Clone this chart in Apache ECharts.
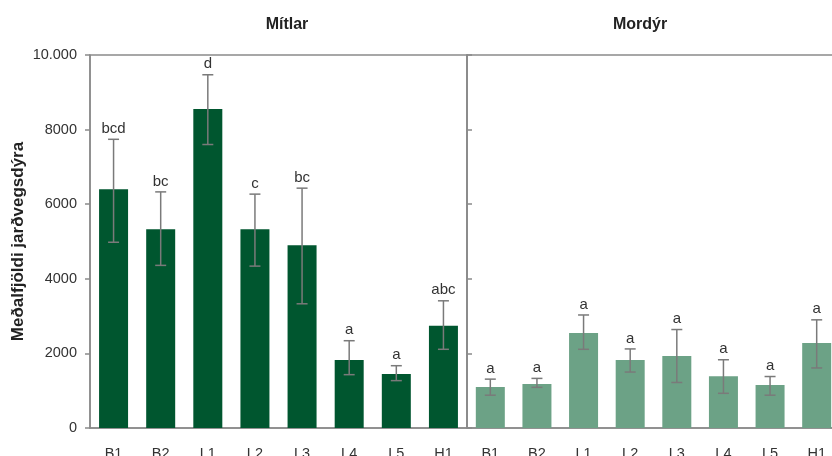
<!DOCTYPE html>
<html>
<head>
<meta charset="utf-8">
<script src="https://cdn.jsdelivr.net/npm/echarts@6/dist/echarts.min.js"></script>
<style>
  html, body { margin: 0; padding: 0; background: #fff; }
  #chart { width: 832px; height: 456px; }
</style>
</head>
<body>
<div id="chart"></div>
<script>
const categories = ['B1', 'B2', 'L1', 'L2', 'L3', 'L4', 'L5', 'H1']

// Mítlar
const mitlarMean = [6400, 5330, 8550, 5330, 4900, 1820, 1450, 2740]
const mitlarLow = [4980, 4360, 7600, 4340, 3330, 1430, 1270, 2110]
const mitlarHigh = [7740, 6330, 9470, 6270, 6430, 2340, 1670, 3410]
const mitlarLetters = ['bcd', 'bc', 'd', 'c', 'bc', 'a', 'a', 'abc']

// Mordýr
const mordyrMean = [1100, 1180, 2550, 1820, 1930, 1390, 1150, 2280]
const mordyrLow = [880, 1090, 2110, 1500, 1220, 930, 880, 1610]
const mordyrHigh = [1310, 1330, 3030, 2120, 2640, 1830, 1380, 2900]
const mordyrLetters = ['a', 'a', 'a', 'a', 'a', 'a', 'a', 'a']

const yTicks = { min: 0, max: 10000, interval: 2000 }

const font = '"Liberation Sans", Arial, Helvetica, sans-serif'
const axisColor = '#8a8a8a'
const errColor = '#7a7a7a'

const chart = echarts.init(document.getElementById('chart'))

const errRender = (letters) => (params, api) => {
  const i = api.value(0)
  const lo = api.coord([i, api.value(1)])
  const hi = api.coord([i, api.value(2)])
  const x = lo[0]
  const half = 5.5
  const lineStyle = { stroke: errColor, lineWidth: 1.5 }
  return {
    type: 'group',
    children: [
      { type: 'line', shape: { x1: x, y1: lo[1], x2: x, y2: hi[1] }, style: lineStyle },
      { type: 'line', shape: { x1: x - half, y1: lo[1], x2: x + half, y2: lo[1] }, style: lineStyle },
      { type: 'line', shape: { x1: x - half, y1: hi[1], x2: x + half, y2: hi[1] }, style: lineStyle },
      {
        type: 'text',
        style: {
          text: letters[i], x: x, y: hi[1] - 3,
          align: 'center', verticalAlign: 'bottom',
          font: '15px ' + font, fill: '#333'
        }
      }
    ]
  }
}

const errData = (low, high) => low.map((v, i) => [i, v, high[i]])

const xAxisBase = (gridIndex) => ({
  type: 'category',
  gridIndex,
  data: categories,
  axisLine: { lineStyle: { color: axisColor, width: 1.5 } },
  axisTick: { show: false },
  axisLabel: { color: '#333', fontSize: 14.5, fontFamily: font, margin: 18 }
})

const option = {
  animation: false,
  textStyle: { fontFamily: font },
  title: [
    { text: 'Mítlar', left: 282, top: 12, textAlign: 'center',
      textStyle: { fontSize: 16, fontWeight: 'bold', color: '#222', fontFamily: font } },
    { text: 'Mordýr', left: 635, top: 12, textAlign: 'center',
      textStyle: { fontSize: 16, fontWeight: 'bold', color: '#222', fontFamily: font } }
  ],
  grid: [
    { left: 90, top: 55, width: 377, height: 373, outerBoundsMode: 'none',
      show: true, borderColor: axisColor, borderWidth: 1.5 },
    { left: 467, top: 55, width: 373, height: 373, outerBoundsMode: 'none',
      show: true, borderColor: axisColor, borderWidth: 1.5 }
  ],
  xAxis: [xAxisBase(0), xAxisBase(1)],
  yAxis: [
    {
      type: 'value', gridIndex: 0, ...yTicks,
      name: 'Meðalfjöldi jarðvegsdýra', nameLocation: 'middle', nameGap: 63, nameRotate: 90,
      nameTextStyle: { fontSize: 17, fontWeight: 'bold', color: '#222', fontFamily: font },
      axisLine: { show: true, lineStyle: { color: axisColor, width: 1.5 } },
      axisTick: { show: true, length: 5, lineStyle: { color: axisColor, width: 1.5 } },
      axisLabel: {
        color: '#333', fontSize: 14.5, fontFamily: font, margin: 13,
        formatter: (v) => (v === 10000 ? '10.000' : String(v))
      },
      splitLine: { show: false }
    },
    {
      type: 'value', gridIndex: 1, ...yTicks,
      axisLine: { show: true, lineStyle: { color: axisColor, width: 1.5 } },
      axisTick: { show: true, inside: true, length: 5, lineStyle: { color: axisColor, width: 1.5 } },
      axisLabel: { show: false },
      splitLine: { show: false }
    }
  ],
  series: [
    {
      type: 'bar', xAxisIndex: 0, yAxisIndex: 0, data: mitlarMean,
      barWidth: 29, itemStyle: { color: '#00562f' }
    },
    {
      type: 'custom', xAxisIndex: 0, yAxisIndex: 0, z: 5,
      data: errData(mitlarLow, mitlarHigh), renderItem: errRender(mitlarLetters)
    },
    {
      type: 'bar', xAxisIndex: 1, yAxisIndex: 1, data: mordyrMean,
      barWidth: 29, itemStyle: { color: '#6ca286' }
    },
    {
      type: 'custom', xAxisIndex: 1, yAxisIndex: 1, z: 5,
      data: errData(mordyrLow, mordyrHigh), renderItem: errRender(mordyrLetters)
    }
  ]
}

chart.setOption(option)
</script>
</body>
</html>
